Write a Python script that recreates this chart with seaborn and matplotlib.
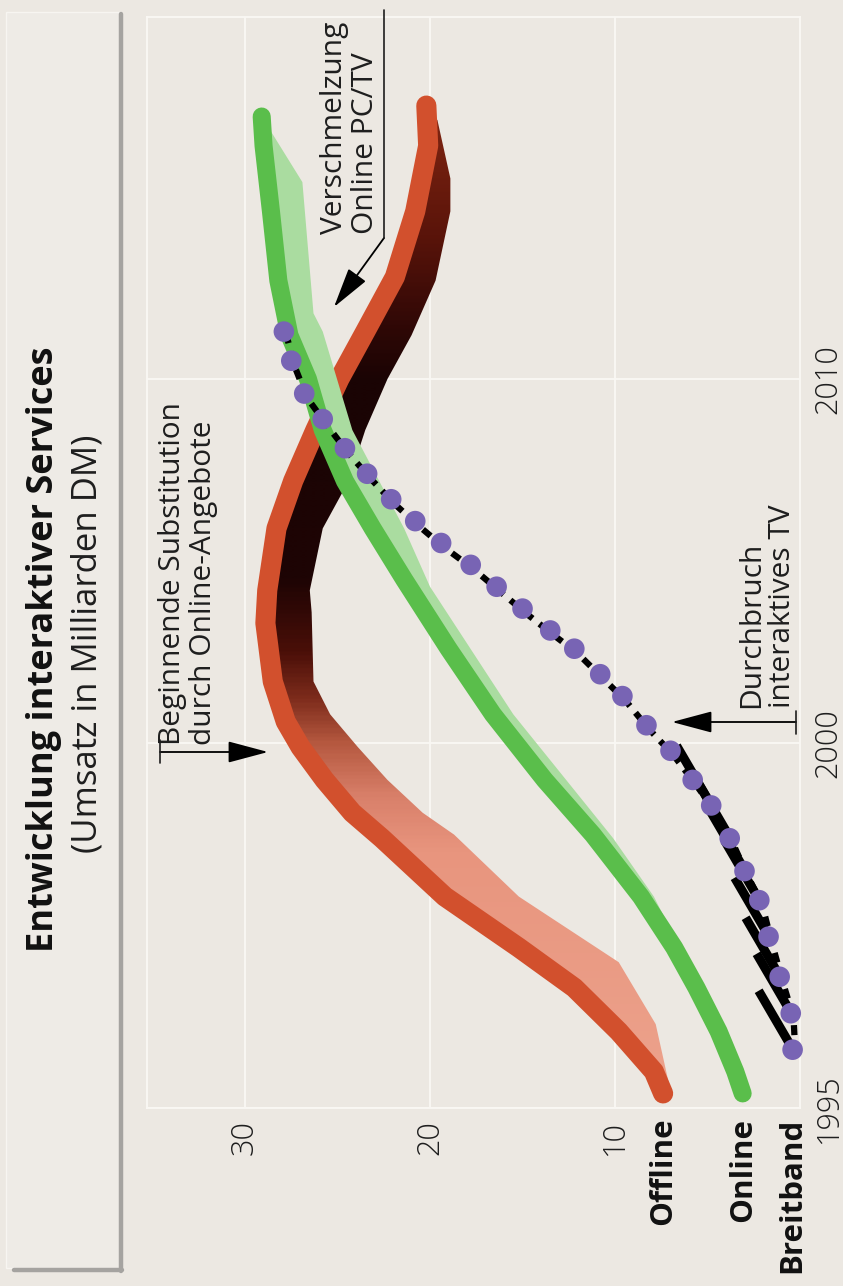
import numpy as np
import matplotlib
matplotlib.use("Agg")
import matplotlib.pyplot as plt
import matplotlib.transforms as mtransforms
from matplotlib.colors import LinearSegmentedColormap
from matplotlib.lines import Line2D
from matplotlib.patches import Polygon, Rectangle
from matplotlib.path import Path
import seaborn as sns

# time axis is drawn in equal steps: 1995 -> 0, 2000 -> 1, 2010 -> 2
year_pos = [0, 1, 2]
year_labels = ["1995", "2000", "2010"]
value_ticks = [10, 20, 30]
value_labels = ["10", "20", "30"]
series_names = ["Offline", "Online", "Breitband"]

# Offline ribbon (front edge and back edge)
offline_t = [0.04, 0.10, 0.21, 0.33, 0.44, 0.58, 0.74, 0.81, 0.90, 0.99, 1.06, 1.17,
             1.33, 1.42, 1.59, 1.72, 1.86, 2.00, 2.13, 2.28, 2.46, 2.64, 2.75]
offline_v = [7.4, 7.9, 9.8, 12.2, 15.2, 19.2, 22.6, 24.2, 25.7, 27.0, 27.8, 28.5,
             28.9, 28.8, 28.3, 27.4, 26.2, 24.9, 23.5, 21.9, 20.8, 20.1, 20.2]
offline_back_t = [0.07, 0.23, 0.40, 0.58, 0.75, 0.81, 0.90, 0.99, 1.08, 1.17, 1.36,
                  1.42, 1.59, 1.72, 1.86, 2.00, 2.12, 2.27, 2.46, 2.55, 2.71]
offline_back_v = [7.1, 7.8, 9.8, 15.2, 18.7, 20.4, 22.3, 23.9, 25.4, 26.3, 26.4,
                  26.5, 25.8, 24.4, 23.5, 22.3, 21.0, 19.7, 18.9, 18.9, 19.6]

# Online ribbon
online_t = [0.04, 0.10, 0.21, 0.33, 0.44, 0.58, 0.75, 0.90, 0.99, 1.08, 1.26, 1.45,
            1.59, 1.72, 1.86, 2.00, 2.12, 2.27, 2.46, 2.64, 2.72]
online_v = [3.1, 3.5, 4.4, 5.6, 6.8, 8.6, 11.2, 13.8, 15.2, 16.6, 19.0, 21.4,
            23.1, 24.6, 25.8, 26.6, 27.6, 28.2, 28.6, 29.0, 29.1]
online_back_t = [0.21, 0.40, 0.58, 0.74, 1.08, 1.43, 1.59, 1.86, 2.13, 2.18, 2.36, 2.54, 2.72]
online_back_v = [4.4, 6.1, 7.9, 10.1, 15.5, 20.0, 21.4, 24.2, 25.8, 26.3, 26.6, 26.9, 29.1]

# Breitband dots
breit_t = [0.16, 0.26, 0.36, 0.47, 0.57, 0.65, 0.74, 0.83, 0.90, 0.98, 1.05, 1.13, 1.19, 1.26,
           1.31, 1.37, 1.43, 1.49, 1.55, 1.61, 1.67, 1.74, 1.81, 1.89, 1.96, 2.05, 2.13]
breit_v = [0.4, 0.5, 1.1, 1.7, 2.2, 3.0, 3.8, 4.8, 5.8, 7.0, 8.3, 9.6, 10.8, 12.2,
           13.5, 15.0, 16.4, 17.8, 19.4, 20.8, 22.1, 23.4, 24.6, 25.8, 26.8, 27.5, 27.9]

W, H = 843, 1286
BG = "#ECE8E2"
GRID = "#FAF8F4"
RED = "#D2502D"
GREEN = "#5ABE4B"
LIGHT_GREEN = "#AADCA0"
PURPLE = "#7864B4"
INK = "#1E1E1E"


def px(x, y):
    return x / W, 1 - y / H


sns.set_theme(style="whitegrid", rc={
    "axes.facecolor": BG, "figure.facecolor": BG,
    "grid.color": GRID, "grid.linewidth": 1.3,
    "axes.edgecolor": GRID, "axes.linewidth": 1.3,
})
plt.rcParams["font.family"] = ["Open Sans", "DejaVu Sans"]

fig = plt.figure(figsize=(W / 100, H / 100), dpi=100)

# title block with a grey drop shadow
x0, y0 = px(6, 1268)
x1, y1 = px(120, 12)
fig.add_artist(Rectangle((x0, y0), x1 - x0, y1 - y0, transform=fig.transFigure,
                         facecolor="#EEEBE6", edgecolor="#F7F5F1", lw=1.0, zorder=0))
fig.add_artist(Line2D([px(121, 0)[0]] * 2, [px(0, 14)[1], px(0, 1271)[1]],
                      transform=fig.transFigure, color="#A5A3A0", lw=3.2))
fig.add_artist(Line2D([px(14, 0)[0], px(122, 0)[0]], [px(0, 1270)[1]] * 2,
                      transform=fig.transFigure, color="#A5A3A0", lw=3.2))

fig.text(*px(44, 952), "Entwicklung interaktiver Services", rotation=90, ha="center",
         va="bottom", fontsize=26, fontweight="bold", color="#111111")
fig.text(*px(88, 853), "(Umsatz in Milliarden DM)", rotation=90, ha="center",
         va="bottom", fontsize=25, color=INK)

ax = fig.add_axes([147 / W, 1 - 1108 / H, (800 - 147) / W, (1108 - 17) / H])
xlim = (35.3, 0)
ylim = (0, 2.993)

# Offline ribbon side face with a colour gradient along time
stops = [(0.0, "#EDA38D"), (0.70, "#E8957E"), (0.85, "#D9806A"), (1.0, "#B5583F"),
         (1.12, "#7E2C1C"), (1.25, "#4A0F08"), (1.45, "#1E0404"), (2.0, "#1A0404"),
         (2.15, "#300806"), (2.4, "#5A140A"), (2.75, "#822612"), (2.993, "#8A2A14")]
cmap = LinearSegmentedColormap.from_list("side", [(s / 2.993, c) for s, c in stops])
grad = cmap(np.linspace(0, 1, 600))[:, None, :]
im = ax.imshow(grad, extent=(xlim[0], xlim[1], ylim[0], ylim[1]), origin="lower",
               aspect="auto", interpolation="bilinear", zorder=2)
side = Polygon(np.column_stack([offline_v + offline_back_v[::-1],
                                offline_t + offline_back_t[::-1]]),
               closed=True, facecolor="none", edgecolor="none")
ax.add_patch(side)
im.set_clip_path(side)

sns.lineplot(x=offline_v, y=offline_t, sort=False, estimator=None, orient="y",
             color=RED, linewidth=14.5, solid_capstyle="round", solid_joinstyle="round",
             ax=ax, zorder=3)

# Online ribbon
ax.fill(online_v + online_back_v[::-1], online_t + online_back_t[::-1],
        color=LIGHT_GREEN, lw=0, zorder=4)
sns.lineplot(x=online_v, y=online_t, sort=False, estimator=None, orient="y",
             color=GREEN, linewidth=13, solid_capstyle="round", solid_joinstyle="round",
             ax=ax, zorder=5)

# Breitband: black dashed shadow, streaks on the early dots, purple dots
sns.lineplot(x=breit_v, y=breit_t, sort=False, estimator=None, orient="y",
             color="black", linewidth=4.5, linestyle=(0, (1.6, 1.4)), ax=ax, zorder=6)
shadow = ax.lines[-1]
shadow.set_transform(ax.transData + mtransforms.ScaledTranslation(2 / 72, -3 / 72,
                                                                  fig.dpi_scale_trans))
low = np.array(breit_t) <= 0.83
streak = Path([(0, 0), (-35, 60)])
sns.scatterplot(x=np.array(breit_v)[low], y=np.array(breit_t)[low], marker=streak,
                s=7400, color="black", edgecolor="black", linewidths=6.5, ax=ax,
                zorder=6, clip_on=False, legend=False)
sns.scatterplot(x=breit_v, y=breit_t, s=220, color=PURPLE, edgecolor="none", ax=ax,
                zorder=7, clip_on=False, legend=False)

ax.set_xlim(*xlim)
ax.set_ylim(*ylim)
ax.set_xticks(value_ticks)
ax.set_xticklabels(value_labels)
ax.set_yticks(year_pos)
ax.set_yticklabels(year_labels)
ax.yaxis.tick_right()
ax.tick_params(axis="x", length=0, pad=8.5, labelsize=22, labelcolor=INK)
ax.tick_params(axis="y", length=0, pad=9, labelsize=22, labelcolor=INK)
for lab in ax.get_xticklabels():
    lab.set_rotation(90)
    lab.set_va("top")
    lab.set_ha("center")
    lab.set_fontweight(300)
for lab in ax.get_yticklabels():
    lab.set_rotation(90)
    lab.set_va("center")
    lab.set_ha("left")
    lab.set_fontweight(300)
ax.set_xlabel("")
ax.set_ylabel("")
for sp in ax.spines.values():
    sp.set_color(GRID)

# series names under the start of each curve
starts = [offline_v[0], online_v[0], breit_v[0]]
for name, v in zip(series_names, starts):
    ax.text(v, -0.009, name, transform=ax.get_xaxis_transform(), rotation=90,
            ha="center", va="top", fontsize=22.5, fontweight="bold", color="#111111")

# annotations
ann = dict(rotation=90, rotation_mode="anchor", ha="left", va="top", fontsize=21.5,
           color=INK, linespacing=1.1)
fig.text(*px(158, 745), "Beginnende Substitution\ndurch Online-Angebote", **ann)
fig.text(*px(737, 708), "Durchbruch\ninteraktives TV", **ann)
fig.text(*px(320, 234), "Verschmelzung\nOnline PC/TV", **ann)

head = dict(arrowstyle="-|>,head_length=0.9,head_width=0.24", color="black",
            lw=1.3, mutation_scale=28, shrinkA=0, shrinkB=0)
fig.add_artist(Line2D([px(160, 0)[0]] * 2, [px(0, 740)[1], px(0, 763)[1]],
                      transform=fig.transFigure, color=INK, lw=1.2))
ax.annotate("", xy=px(268, 752), xytext=px(160, 752), xycoords="figure fraction",
            textcoords="figure fraction", arrowprops=head)
fig.add_artist(Line2D([px(796, 0)[0]] * 2, [px(0, 711)[1], px(0, 734)[1]],
                      transform=fig.transFigure, color=INK, lw=1.2))
ax.annotate("", xy=px(672, 722), xytext=px(796, 722), xycoords="figure fraction",
            textcoords="figure fraction", arrowprops=head)
fig.add_artist(Line2D([px(384, 0)[0]] * 2, [px(0, 10)[1], px(0, 238)[1]],
                      transform=fig.transFigure, color=INK, lw=1.2))
ax.annotate("", xy=px(334, 307), xytext=px(384, 238), xycoords="figure fraction",
            textcoords="figure fraction", arrowprops=head)

fig.savefig("out.png", dpi=100, facecolor=BG)
